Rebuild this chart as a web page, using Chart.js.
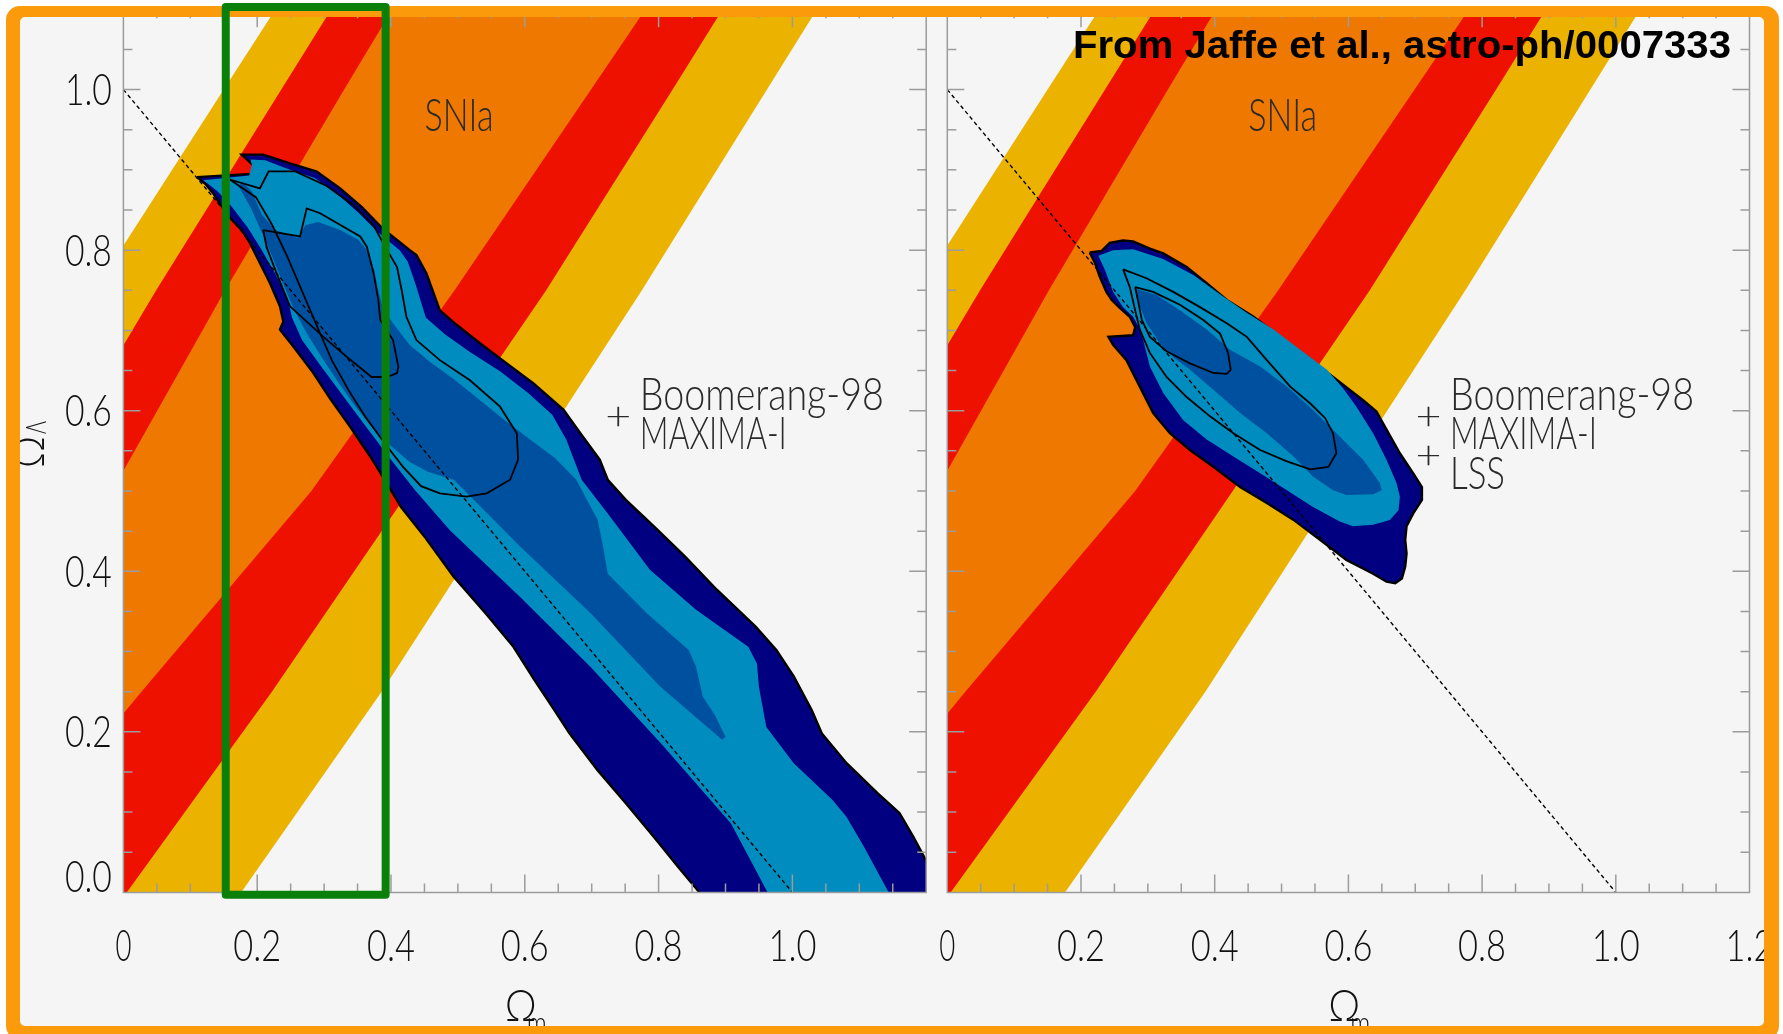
<!DOCTYPE html>
<html>
<head>
<meta charset="utf-8">
<script src="https://cdn.jsdelivr.net/npm/chart.js@4.4.1/dist/chart.umd.min.js"></script>
<style>
  html, body { margin: 0; padding: 0; background: #fff; overflow: hidden; }
  #bg { position: absolute; left: 6px; top: 6px; width: 1773px; height: 1034px; background: #f5f5f5; border-radius: 14px; }
  canvas { position: absolute; left: 0; top: 0; }
</style>
</head>
<body>
<div id="bg"></div>
<canvas id="rightPanel" width="1783" height="1034"></canvas>
<canvas id="leftPanel" width="1783" height="1034"></canvas>
<script>
// ---------------- DATA ----------------

// tick values / labels (Omega_m on x, Omega_Lambda on y)
const xTickValues = [0, 0.2, 0.4, 0.6, 0.8, 1.0, 1.2];
const xTickLabelsLeft = ['0', '0.2', '0.4', '0.6', '0.8', '1.0'];
const xTickLabelsRight = ['0', '0.2', '0.4', '0.6', '0.8', '1.0', '1.2'];
const yTickValues = [0, 0.2, 0.4, 0.6, 0.8, 1.0];
const yTickLabels = ['0.0', '0.2', '0.4', '0.6', '0.8', '1.0'];

// SNIa bands: Omega_m of each band edge at these Omega_Lambda levels
const bandY = [-0.1, 0.0, 0.25, 0.5, 0.75, 1.0, 1.15];
const sn3Upper = [-0.70, -0.62, -0.43, -0.237, -0.043, 0.150, 0.266];
const sn2Upper = [-0.56, -0.49, -0.31, -0.13, 0.049, 0.236, 0.348];
const sn1Upper = [-0.43, -0.36, -0.19, -0.017, 0.152, 0.330, 0.438];
const sn1Lower = [-0.32, -0.22, 0.027, 0.281, 0.495, 0.699, 0.821];
const sn2Lower = [-0.082, 0.005, 0.222, 0.427, 0.632, 0.821, 0.933];
const sn3Lower = [0.092, 0.176, 0.386, 0.580, 0.775, 0.962, 1.074];

// Boomerang-98 + MAXIMA-I  [Omega_m, Omega_Lambda]
const cmbOuter = [[0.110,0.891],[0.192,0.895],[0.195,0.905],[0.177,0.919],[0.209,0.919],[0.249,0.908],[0.289,0.898],[0.324,0.877],[0.356,0.854],[0.386,0.828],[0.428,0.800],[0.438,0.794],[0.453,0.771],[0.473,0.725],[0.498,0.707],[0.533,0.684],[0.573,0.659],[0.613,0.634],[0.658,0.601],[0.683,0.572],[0.712,0.539],[0.724,0.514],[0.751,0.489],[0.793,0.456],[0.840,0.418],[0.887,0.377],[0.945,0.331],[0.976,0.302],[1.002,0.269],[1.029,0.227],[1.044,0.198],[1.081,0.161],[1.128,0.123],[1.160,0.099],[1.181,0.069],[1.197,0.044],[1.25,-0.05],[0.911,-0.05],[0.861,0.000],[0.829,0.032],[0.793,0.069],[0.751,0.111],[0.709,0.152],[0.667,0.198],[0.641,0.231],[0.614,0.265],[0.583,0.306],[0.541,0.348],[0.494,0.393],[0.452,0.441],[0.415,0.480],[0.397,0.505],[0.369,0.543],[0.339,0.580],[0.309,0.615],[0.284,0.647],[0.254,0.680],[0.234,0.701],[0.239,0.711],[0.234,0.730],[0.219,0.759],[0.204,0.784],[0.189,0.809],[0.177,0.825],[0.162,0.838],[0.144,0.858],[0.134,0.871],[0.122,0.883],[0.110,0.891]];
const cmbMid = [[0.119,0.887],[0.188,0.893],[0.192,0.906],[0.190,0.913],[0.212,0.912],[0.249,0.900],[0.286,0.890],[0.321,0.869],[0.351,0.847],[0.381,0.822],[0.413,0.800],[0.425,0.786],[0.437,0.757],[0.452,0.716],[0.481,0.695],[0.518,0.673],[0.563,0.649],[0.605,0.622],[0.641,0.595],[0.662,0.564],[0.685,0.514],[0.724,0.472],[0.787,0.402],[0.856,0.352],[0.934,0.306],[0.947,0.285],[0.950,0.256],[0.961,0.206],[1.002,0.161],[1.060,0.115],[1.081,0.094],[1.107,0.057],[1.144,0.000],[1.161,-0.022],[0.981,-0.022],[0.963,0.000],[0.908,0.086],[0.803,0.186],[0.698,0.281],[0.593,0.368],[0.488,0.451],[0.436,0.501],[0.398,0.541],[0.361,0.582],[0.327,0.620],[0.294,0.657],[0.267,0.688],[0.252,0.716],[0.246,0.738],[0.228,0.769],[0.207,0.800],[0.186,0.828],[0.162,0.854],[0.141,0.873],[0.126,0.883]];
const cmbCore = [[0.172,0.880],[0.192,0.850],[0.207,0.822],[0.222,0.793],[0.238,0.760],[0.254,0.728],[0.275,0.695],[0.300,0.662],[0.324,0.632],[0.348,0.604],[0.373,0.578],[0.400,0.556],[0.428,0.536],[0.455,0.524],[0.494,0.514],[0.593,0.431],[0.698,0.348],[0.803,0.256],[0.895,0.190],[0.900,0.194],[0.884,0.221],[0.866,0.244],[0.856,0.281],[0.845,0.302],[0.782,0.348],[0.724,0.397],[0.717,0.431],[0.709,0.464],[0.677,0.514],[0.645,0.541],[0.608,0.564],[0.570,0.588],[0.533,0.613],[0.496,0.638],[0.458,0.661],[0.428,0.682],[0.410,0.701],[0.388,0.726],[0.381,0.750],[0.375,0.775],[0.366,0.798],[0.351,0.813],[0.324,0.825],[0.291,0.835],[0.272,0.831],[0.261,0.815],[0.227,0.825],[0.207,0.844],[0.192,0.873],[0.178,0.885]];
const cmbLine1 = [[0.159,0.888],[0.204,0.877],[0.217,0.898],[0.257,0.898],[0.304,0.880],[0.344,0.856],[0.374,0.831],[0.388,0.809],[0.409,0.779],[0.416,0.750],[0.423,0.717],[0.438,0.688],[0.473,0.663],[0.518,0.638],[0.563,0.605],[0.588,0.572],[0.590,0.539],[0.578,0.514],[0.543,0.497],[0.513,0.493],[0.473,0.497],[0.445,0.506],[0.418,0.530],[0.390,0.560],[0.362,0.592],[0.337,0.625],[0.312,0.662],[0.290,0.704],[0.268,0.747],[0.245,0.792],[0.222,0.832],[0.198,0.866],[0.159,0.888]];
const cmbLine2 = [[0.209,0.825],[0.264,0.817],[0.274,0.852],[0.294,0.846],[0.354,0.817],[0.364,0.804],[0.374,0.771],[0.381,0.738],[0.384,0.713],[0.403,0.688],[0.411,0.655],[0.409,0.647],[0.394,0.642],[0.371,0.642],[0.334,0.667],[0.299,0.692],[0.249,0.730],[0.229,0.771],[0.214,0.804],[0.209,0.825]];

// Boomerang-98 + MAXIMA-I + LSS
const lssOuter = [[0.213,0.797],[0.231,0.799],[0.243,0.809],[0.263,0.812],[0.278,0.811],[0.303,0.802],[0.323,0.796],[0.358,0.779],[0.388,0.759],[0.418,0.738],[0.458,0.717],[0.498,0.692],[0.538,0.667],[0.577,0.642],[0.622,0.613],[0.642,0.599],[0.652,0.584],[0.677,0.547],[0.697,0.522],[0.710,0.505],[0.710,0.489],[0.697,0.472],[0.687,0.456],[0.685,0.439],[0.687,0.422],[0.685,0.406],[0.680,0.391],[0.670,0.385],[0.657,0.387],[0.637,0.397],[0.597,0.414],[0.558,0.439],[0.518,0.464],[0.478,0.485],[0.438,0.505],[0.398,0.530],[0.363,0.551],[0.333,0.572],[0.308,0.597],[0.288,0.630],[0.268,0.663],[0.248,0.682],[0.241,0.692],[0.278,0.694],[0.281,0.704],[0.273,0.717],[0.258,0.728],[0.246,0.738],[0.238,0.748],[0.228,0.767],[0.221,0.784],[0.213,0.797]];
const lssMid = [[0.226,0.793],[0.248,0.800],[0.278,0.801],[0.323,0.789],[0.368,0.769],[0.408,0.745],[0.448,0.722],[0.488,0.701],[0.528,0.676],[0.568,0.651],[0.592,0.628],[0.612,0.605],[0.637,0.572],[0.657,0.539],[0.672,0.510],[0.677,0.493],[0.675,0.476],[0.662,0.464],[0.637,0.458],[0.607,0.456],[0.587,0.462],[0.547,0.480],[0.508,0.501],[0.468,0.522],[0.428,0.543],[0.388,0.564],[0.353,0.588],[0.323,0.622],[0.303,0.655],[0.293,0.688],[0.286,0.705],[0.278,0.717],[0.263,0.729],[0.248,0.748],[0.236,0.775]];
const lssCore = [[0.281,0.752],[0.313,0.744],[0.348,0.725],[0.388,0.701],[0.423,0.676],[0.468,0.655],[0.508,0.630],[0.547,0.601],[0.587,0.568],[0.622,0.539],[0.647,0.510],[0.650,0.501],[0.637,0.496],[0.597,0.495],[0.577,0.501],[0.547,0.518],[0.518,0.543],[0.478,0.572],[0.438,0.597],[0.398,0.626],[0.363,0.651],[0.338,0.667],[0.318,0.684],[0.298,0.709],[0.288,0.730]];
const lssLine1 = [[0.263,0.776],[0.298,0.765],[0.338,0.748],[0.378,0.729],[0.418,0.709],[0.448,0.692],[0.478,0.663],[0.513,0.630],[0.543,0.609],[0.565,0.591],[0.577,0.572],[0.582,0.547],[0.570,0.530],[0.543,0.527],[0.508,0.537],[0.468,0.551],[0.428,0.572],[0.393,0.593],[0.358,0.617],[0.328,0.642],[0.303,0.672],[0.288,0.701],[0.281,0.725],[0.273,0.754],[0.263,0.776]];
const lssLine2 = [[0.281,0.754],[0.308,0.748],[0.348,0.732],[0.383,0.713],[0.408,0.696],[0.420,0.672],[0.424,0.651],[0.418,0.646],[0.398,0.647],[0.363,0.659],[0.328,0.674],[0.303,0.692],[0.291,0.713],[0.286,0.734],[0.281,0.754]];

// flat universe line Omega_m + Omega_Lambda = 1
const flatX = [0, 1];
const flatY = [1, 0];

// highlight box drawn over the left panel
const boxX = [0.153, 0.392];
const boxY = [-0.003, 1.103];

// ---------------- STYLE ----------------
const COL = {
  yellow: '#ebb200', red: '#ee1100', orange: '#ee7800',
  navy: '#000080', cyan: '#008cbe', blue: '#0050a0',
  frame: '#fb9b0c', green: '#0a800a', axis: '#9c9c9c', ink: '#111'
};
const THIN = '"Lato", "DejaVu Sans", sans-serif';

// ---------------- HELPERS ----------------
const pts = arr => arr.map(p => ({x: p[0], y: p[1]}));

function bandPoly(upperXs, lowerXs) {
  const up = upperXs.map((x, i) => ({x, y: bandY[i]}));
  const low = lowerXs.map((x, i) => ({x, y: bandY[i]})).reverse();
  return up.concat(low);
}

function area(data, color, outline) {
  return {
    data, showLine: true, fill: 'shape', backgroundColor: color,
    borderColor: outline ? '#000' : 'rgba(0,0,0,0)', borderWidth: outline ? 2.4 : 0,
    pointRadius: 0, tension: 0
  };
}

function curve(data, width, dash) {
  return {
    data, showLine: true, fill: false, borderColor: '#000', borderWidth: width,
    borderDash: dash || [], pointRadius: 0, tension: 0
  };
}

function buildDatasets(outer, mid, core, line1, line2) {
  const flat = curve(flatX.map((x, i) => ({x, y: flatY[i]})), 1.4, [4, 3]);
  flat.decorAfter = true;
  return [
    area(bandPoly(sn3Upper, sn3Lower), COL.yellow),
    area(bandPoly(sn2Upper, sn2Lower), COL.red),
    area(bandPoly(sn1Upper, sn1Lower), COL.orange),
    area(pts(outer), COL.navy, true),
    area(pts(mid), COL.cyan),
    area(pts(core), COL.blue),
    curve(pts(line1), 1.8),
    curve(pts(line2), 1.8),
    flat
  ];
}

const isMajor = v => Math.abs(v * 5 - Math.round(v * 5)) < 1e-6;

// text squeezed to a given width (tall thin lettering of the original)
function fitText(ctx, str, left, baseline, size, width, font, color, weight) {
  ctx.save();
  ctx.font = `${weight || 300} ${size}px ${font || THIN}`;
  const w = ctx.measureText(str).width;
  ctx.translate(left, baseline);
  ctx.scale(width / w, 1);
  ctx.fillStyle = color || COL.ink;
  ctx.textAlign = 'left';
  ctx.textBaseline = 'alphabetic';
  ctx.fillText(str, 0, 0);
  ctx.restore();
}

function drawBoxAndTicks(chart) {
  const {ctx, chartArea: a, scales: {x, y}} = chart;
  ctx.save();
  ctx.strokeStyle = COL.axis;
  ctx.lineWidth = 1.5;
  ctx.beginPath();
  ctx.rect(a.left, a.top, a.right - a.left, a.bottom - a.top);
  x.ticks.forEach(t => {
    const px = x.getPixelForValue(t.value);
    const len = isMajor(t.value) ? 18 : 9;
    ctx.moveTo(px, a.bottom); ctx.lineTo(px, a.bottom - len);
    ctx.moveTo(px, a.top); ctx.lineTo(px, a.top + len);
  });
  y.ticks.forEach(t => {
    const py = y.getPixelForValue(t.value);
    const len = isMajor(t.value) ? 17 : 9;
    ctx.moveTo(a.left, py); ctx.lineTo(a.left + len, py);
    ctx.moveTo(a.right, py); ctx.lineTo(a.right - len, py);
  });
  ctx.stroke();
  ctx.restore();
}

function drawFrame(ctx) {
  const rr = (x, y, w, h, r) => {
    ctx.moveTo(x + r, y);
    ctx.arcTo(x + w, y, x + w, y + h, r);
    ctx.arcTo(x + w, y + h, x, y + h, r);
    ctx.arcTo(x, y + h, x, y, r);
    ctx.arcTo(x, y, x + w, y, r);
    ctx.closePath();
  };
  ctx.save();
  ctx.fillStyle = COL.frame;
  ctx.beginPath();
  rr(6, 6, 1773, 1034, 14);
  rr(20, 17, 1744, 1009, 5);
  ctx.fill('evenodd');
  ctx.restore();
}

function makeDecor(spec) {
  return {
    id: 'decor' + spec.name,
    afterDatasetDraw(chart, args) {
      if (!chart.data.datasets[args.index].decorAfter) return;
      const {ctx, chartArea: a, scales: {x, y}} = chart;
      drawBoxAndTicks(chart);

      // tick labels
      spec.xLabels.forEach((lab, i) => {
        const w = lab.length === 1 ? 16 : 48;
        fitText(ctx, lab, x.getPixelForValue(xTickValues[i]) - w / 2, a.bottom + 69, 43, w);
      });
      if (spec.yLabels) {
        spec.yLabels.forEach((lab, i) => {
          // the 0.0 label sits on the axis instead of centred on it
          const base = i === 0 ? a.bottom : y.getPixelForValue(yTickValues[i]) + 15.5;
          fitText(ctx, lab, a.left - 11.5 - 47, base, 43, 47);
        });
      }

      // axis titles
      const om = x.getPixelForValue(0.570);
      fitText(ctx, '\u03A9', om, 1021, 43, 32);
      fitText(ctx, 'm', om + 22, 1033, 30, 20);
      if (spec.yTitle) {
        ctx.save();
        ctx.translate(44, 468);
        ctx.rotate(-Math.PI / 2);
        fitText(ctx, '\u03A9', 0, 0, 43, 32);
        fitText(ctx, '\u039B', 34, 2, 28, 13);
        ctx.restore();
      }

      // annotations
      fitText(ctx, 'SNIa', x.getPixelForValue(0.45), y.getPixelForValue(0.948), 46, 69, THIN, '#2a2a2a');
      const tx = x.getPixelForValue(spec.textX);
      const base = [0.601, 0.552, 0.502];
      spec.lines.forEach((s, i) => {
        const w = {'Boomerang-98': 244, 'MAXIMA-I': 147, 'LSS': 55}[s];
        fitText(ctx, s, tx, y.getPixelForValue(base[i]), 46, w, THIN, '#2a2a2a');
      });
      for (let i = 0; i < spec.lines.length - 1; i++) {
        const mid = (y.getPixelForValue(base[i]) + y.getPixelForValue(base[i + 1])) / 2;
        fitText(ctx, '+', tx - 34.5, mid, 40, 26, THIN, '#2a2a2a');
      }

      if (spec.title) {
        fitText(ctx, spec.title, x.getPixelForValue(0.188), y.getPixelForValue(1.0394), 39, 658,
                '"Liberation Sans", Arial, sans-serif', '#000', 700);
      }
      if (spec.frame) drawFrame(ctx);
    }
  };
}

function makeChart(id, spec, datasets) {
  datasets.forEach((d, i) => { d.order = datasets.length - i; });
  return new Chart(document.getElementById(id), {
    type: 'scatter',
    data: {datasets},
    options: {
      responsive: false,
      animation: false,
      devicePixelRatio: 1,
      layout: {padding: spec.padding},
      scales: {
        x: {type: 'linear', min: 0, max: 1.2, display: false, ticks: {stepSize: 0.05}},
        y: {type: 'linear', min: 0, max: 1.1, display: false, ticks: {stepSize: 0.05}}
      },
      plugins: {legend: {display: false}, tooltip: {enabled: false}}
    },
    plugins: [makeDecor(spec)]
  });
}

// ---------------- RENDER ----------------
const rightSets = buildDatasets(lssOuter, lssMid, lssCore, lssLine1, lssLine2);
makeChart('rightPanel', {
  name: 'Right',
  padding: {left: 947.3, top: 9.3, right: 33.5, bottom: 141.6},
  xLabels: xTickLabelsRight,
  textX: 0.752,
  lines: ['Boomerang-98', 'MAXIMA-I', 'LSS'],
  title: 'From Jaffe et al., astro-ph/0007333'
}, rightSets);

const leftSets = buildDatasets(cmbOuter, cmbMid, cmbCore, cmbLine1, cmbLine2);
leftSets.push({
  data: [{x: boxX[0], y: boxY[0]}, {x: boxX[1], y: boxY[0]}, {x: boxX[1], y: boxY[1]},
         {x: boxX[0], y: boxY[1]}, {x: boxX[0], y: boxY[0]}],
  showLine: true, fill: false, borderColor: COL.green, borderWidth: 8,
  borderJoinStyle: 'round', pointRadius: 0, tension: 0, clip: false
});
makeChart('leftPanel', {
  name: 'Left',
  padding: {left: 123.4, top: 9.3, right: 856.8, bottom: 141.6},
  xLabels: xTickLabelsLeft,
  yLabels: yTickLabels,
  yTitle: true,
  textX: 0.772,
  lines: ['Boomerang-98', 'MAXIMA-I'],
  frame: true
}, leftSets);
</script>
</body>
</html>
